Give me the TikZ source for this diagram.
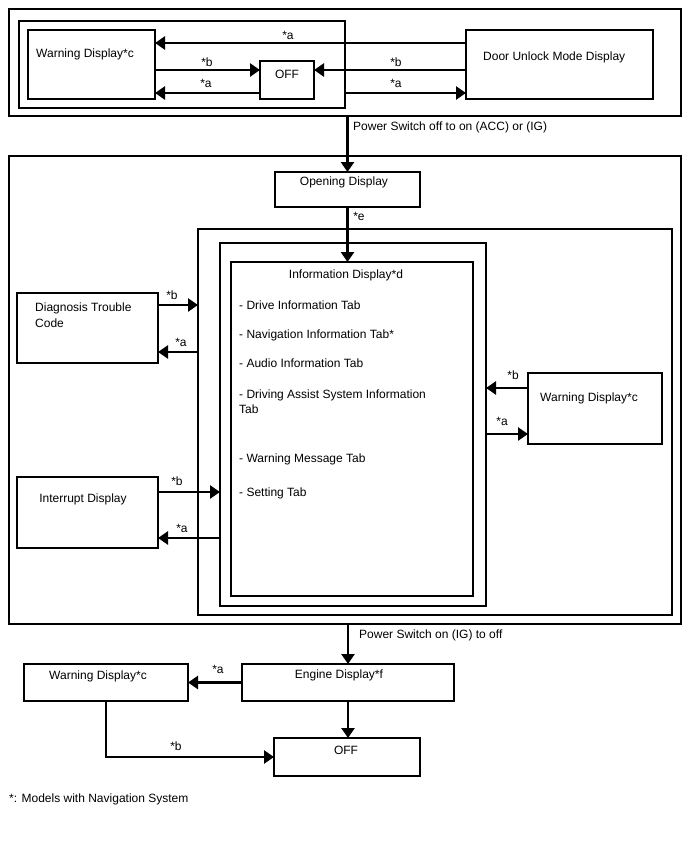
\documentclass[tikz,border=0pt]{standalone}
\usepackage{fontspec}
\setmainfont{Liberation Sans}
\usetikzlibrary{arrows.meta}
\begin{document}
\begin{tikzpicture}[x=1pt,y=-1pt,
  font=\fontsize{12}{14}\selectfont,
  box/.style={draw, line width=1.4pt, inner sep=0pt, outer sep=0pt, anchor=north west},
  arr/.style={line width=2.5pt, -{Triangle[length=10pt,width=13pt]}},
  txt/.style={inner sep=0pt, anchor=west},
  ctxt/.style={inner sep=0pt, anchor=center}]
\useasboundingbox (0,0) rectangle (688,852);
% ---------- top group ----------
\node[box, minimum width=672pt, minimum height=107pt] (outer1) at (9,9) {};
\node[box, minimum width=326pt, minimum height=87pt] (inner1) at (19,21) {};
\node[box, minimum width=127pt, minimum height=69pt] (warn1) at (28,30) {};
\node[box, minimum width=54pt, minimum height=38pt] (off1) at (260,61) {};
\node[box, minimum width=187pt, minimum height=69pt] (door) at (466,30) {};
\node[txt] (warn1t) at (36,54) {Warning Display*c};
\node[txt] (doort) at (483,57) {Door Unlock Mode Display};
\node[ctxt] (off1t) at (287,74) {OFF};
\node[ctxt] (la1) at (288,35) {*a};
\node[ctxt] (lb1) at (207,62) {*b};
\node[ctxt] (la2) at (206,83) {*a};
\node[ctxt] (lb2) at (396,62) {*b};
\node[ctxt] (la3) at (396,83) {*a};
\draw[arr] (door.west |- 0,43) -- (warn1.east |- 0,43);
\draw[arr] (warn1.east |- 0,70) -- (off1.west |- 0,70);
\draw[arr] (off1.west |- 0,93) -- (warn1.east |- 0,93);
\draw[arr] (door.west |- 0,70) -- (off1.east |- 0,70);
\draw[arr] (inner1.east |- 0,93) -- (door.west |- 0,93);
% ---------- middle group ----------
\node[box, minimum width=672pt, minimum height=468pt] (big) at (9,156) {};
\node[box, minimum width=145pt, minimum height=35pt] (opening) at (275,172) {};
\node[box, minimum width=474pt, minimum height=386pt] (box2) at (198,229) {};
\node[box, minimum width=266pt, minimum height=363pt] (box3) at (220,243) {};
\node[box, minimum width=242pt, minimum height=334pt] (info) at (231,262) {};
\node[box, minimum width=141pt, minimum height=70pt] (dtc) at (17,293) {};
\node[box, minimum width=141pt, minimum height=71pt] (intr) at (17,477) {};
\node[box, minimum width=134pt, minimum height=71pt] (warn3) at (528,373) {};
\node[txt] (pwr1) at (353,127) {Power Switch off to on (ACC) or (IG)};
\node[ctxt] (openingt) at (344,182) {Opening Display};
\node[ctxt] (le) at (359,216) {*e};
\node[ctxt] (infot) at (346,275) {Information Display*d};
\node[txt] (i1) at (239,305) {- Drive Information Tab};
\node[txt] (i2) at (239,335) {- Navigation Information Tab*};
\node[txt] (i3) at (239,363) {- Audio Information Tab};
\node[txt] (i4) at (239,395) {- Driving Assist System Information};
\node[txt] (i4b) at (239,409) {Tab};
\node[txt] (i5) at (239,459) {- Warning Message Tab};
\node[txt] (i6) at (239,493) {- Setting Tab};
\node[txt] (dtct1) at (35,308) {Diagnosis Trouble};
\node[txt] (dtct2) at (35,323) {Code};
\node[ctxt] (intrt) at (83,499) {Interrupt Display};
\node[txt] (warn3t) at (540,398) {Warning Display*c};
\node[ctxt] (lb3) at (172,295) {*b};
\node[ctxt] (la4) at (181,342) {*a};
\node[ctxt] (lb4) at (177,481) {*b};
\node[ctxt] (la5) at (182,528) {*a};
\node[ctxt] (lb5) at (513,375) {*b};
\node[ctxt] (la6) at (502,421) {*a};
\draw[arr] (outer1.south -| opening.north) -- (opening.north);
\draw[arr] (opening.south) -- (opening.south |- info.north);
\draw[arr] (dtc.east |- 0,305) -- (box2.west |- 0,305);
\draw[arr] (box2.west |- 0,352) -- (dtc.east |- 0,352);
\draw[arr] (intr.east |- 0,492) -- (box3.west |- 0,492);
\draw[arr] (box3.west |- 0,538) -- (intr.east |- 0,538);
\draw[arr] (warn3.west |- 0,388) -- (box3.east |- 0,388);
\draw[arr] (box3.east |- 0,434) -- (warn3.west |- 0,434);
% ---------- bottom group ----------
\node[box, minimum width=212pt, minimum height=37pt] (engine) at (242,664) {};
\node[box, minimum width=164pt, minimum height=37pt] (warn2) at (24,664) {};
\node[box, minimum width=146pt, minimum height=38pt] (off2) at (274,738) {};
\node[txt] (pwr2) at (359,635) {Power Switch on (IG) to off};
\node[ctxt] (enginet) at (339,675) {Engine Display*f};
\node[ctxt] (warn2t) at (98,676) {Warning Display*c};
\node[ctxt] (off2t) at (346,750) {OFF};
\node[ctxt] (la7) at (218,669) {*a};
\node[ctxt] (lb6) at (176,746) {*b};
\node[txt] (foot) at (9,799) {*: Models with Navigation System};
\draw[arr] (big.south -| engine.north) -- (engine.north);
\draw[arr] (engine.west) -- (warn2.east);
\draw[arr] (engine.south) -- (engine.south |- off2.north);
\draw[arr] (warn2.south) |- (off2.west);
\end{tikzpicture}
\end{document}
